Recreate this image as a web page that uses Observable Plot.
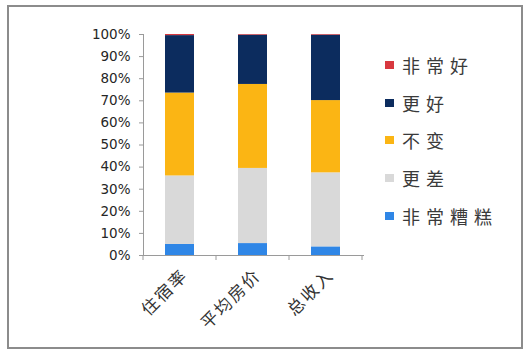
<!DOCTYPE html>
<html>
<head>
<meta charset="utf-8">
<script src="https://cdn.jsdelivr.net/npm/d3@7"></script>
<script src="https://cdn.jsdelivr.net/npm/@observablehq/plot@0.6"></script>
<style>
  html, body { margin: 0; padding: 0; background: #fff; }
  #wrap { position: relative; width: 531px; height: 356px; overflow: hidden; }
  #frame { position: absolute; left: 7px; top: 5px; width: 512px; height: 340px; border: 2px solid #8c8c8c; }
  #chart { position: absolute; left: 0; top: 0; }
  #chart svg { color: #9a9a9a; }
  #chart text { fill: #262626; }
  #chart [aria-label^="x-axis"] text { font-family: "Noto Sans CJK SC", sans-serif; font-size: 17px; letter-spacing: 2px; fill: #333; }
  #legend { position: absolute; left: 385px; top: 0; font-family: "Noto Sans CJK SC", sans-serif; font-size: 18px; letter-spacing: 6px; color: #3a3a3a; }
  .item { position: absolute; left: 0; white-space: nowrap; display: flex; align-items: center; height: 22px; }
  .sw { width: 9px; height: 8px; margin-right: 8px; }
</style>
</head>
<body>
<div id="wrap">
  <div id="frame"></div>
  <div id="chart"></div>
  <div id="legend"></div>
</div>
<script>
const categories = ["住宿率", "平均房价", "总收入"];
const series = ["非常糟糕", "更差", "不变", "更好", "非常好"];
const colors = ["#2f86e6", "#d9d9d9", "#fbb514", "#0c2c5e", "#d8383f"];
const veryBad  = [5.0, 5.4, 3.9];
const worse    = [31.0, 34.0, 33.5];
const same     = [37.5, 38.0, 32.7];
const better   = [26.0, 22.3, 29.6];
const veryGood = [0.5, 0.3, 0.3];
const yTicks = [0, 10, 20, 30, 40, 50, 60, 70, 80, 90, 100];
const legendOrder = ["非常好", "更好", "不变", "更差", "非常糟糕"];

const valuesBySeries = [veryBad, worse, same, better, veryGood];
const data = [];
series.forEach((s, i) => categories.forEach((c, j) => data.push({category: c, series: s, value: valuesBySeries[i][j]})));

const plot = Plot.plot({
  width: 531,
  height: 356,
  marginLeft: 143,
  marginRight: 168,
  marginTop: 34,
  marginBottom: 101,
  style: {fontFamily: "DejaVu Sans", fontSize: "13.5px", background: "transparent"},
  x: {domain: categories, paddingInner: 0.6, paddingOuter: 0.3, label: null, tickSize: 0, tickRotate: -45, tickPadding: 17, line: true},
  y: {domain: [0, 100], ticks: yTicks, tickFormat: d => d + "%", tickSize: 4, tickPadding: 9, label: null, line: true},
  color: {domain: series, range: colors},
  marks: [
    Plot.barY(data, {x: "category", y: "value", fill: "series", order: series})
  ]
});
document.getElementById("chart").appendChild(plot);

// nudge x tick labels right a little
const svg = d3.select(plot);
svg.selectAll('[aria-label="x-axis tick label"]').each(function() {
  const el = d3.select(this);
  el.attr("transform", (el.attr("transform") || "") + " translate(5,0)");
});

// ticks between categories, derived from the band scale
const xs = plot.scale("x");
const ys = plot.scale("y");
const y0 = ys.apply(0);
const g = svg.append("g").attr("stroke", "#9a9a9a");
for (let k = 0; k <= categories.length; k++) {
  const xp = xs.range[0] + k * xs.step;
  g.append("line").attr("x1", xp).attr("x2", xp).attr("y1", y0).attr("y2", y0 + 5);
}

// legend
const leg = document.getElementById("legend");
const legendY = [65, 103, 140, 178, 216];
legendOrder.forEach((s, i) => {
  const div = document.createElement("div");
  div.className = "item";
  div.style.top = (legendY[i] - 11) + "px";
  const sw = document.createElement("span");
  sw.className = "sw";
  sw.style.background = colors[series.indexOf(s)];
  div.appendChild(sw);
  const t = document.createElement("span");
  t.textContent = s;
  div.appendChild(t);
  leg.appendChild(div);
});
</script>
</body>
</html>
